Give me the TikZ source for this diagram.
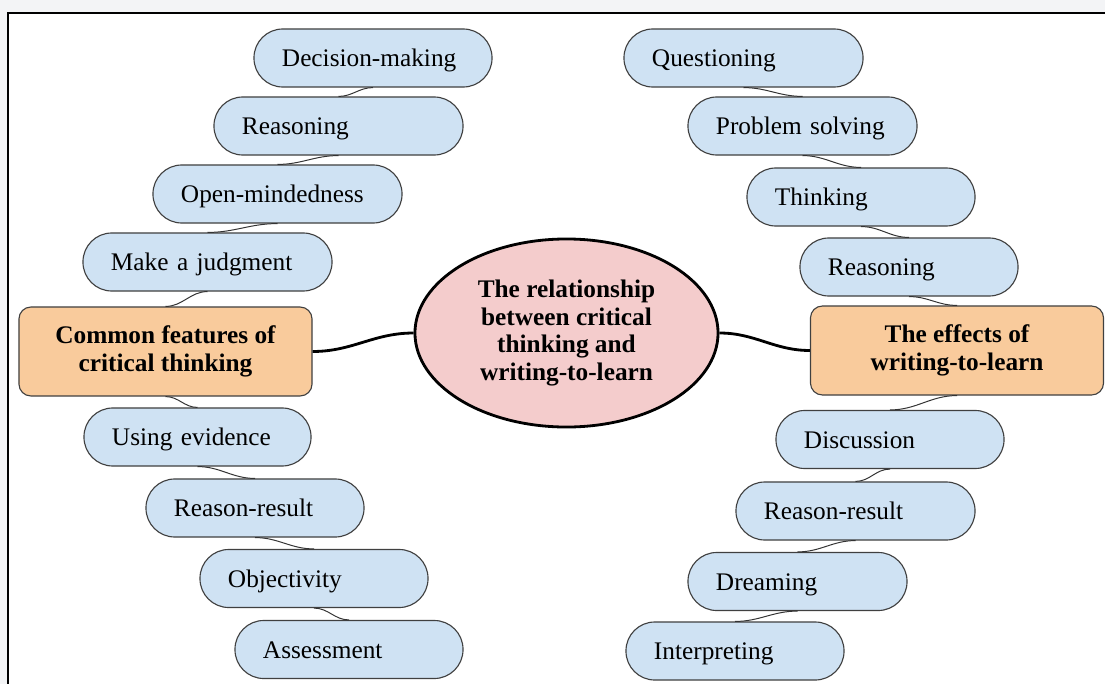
\documentclass[tikz,border=0pt]{standalone}
\usepackage{fontspec}
\setmainfont{Liberation Serif}
\usetikzlibrary{shapes.geometric}

\definecolor{pillblue}{HTML}{CFE2F3}
\definecolor{headorange}{HTML}{F9CB9C}
\definecolor{hubpink}{HTML}{F4CCCC}
\definecolor{pagegray}{HTML}{F3F4F6}

\begin{document}
\begin{tikzpicture}[x=0.025cm,y=-0.025cm,
    pill/.style={draw=black!75, line width=0.8pt, fill=pillblue, rounded corners=0.72cm,
      minimum height=1.45cm, inner xsep=0.7cm, text height=0.57cm, text depth=0.14cm,
      align=left, font=\fontsize{18}{21}\selectfont},
    headbox/.style={draw=black!75, line width=0.8pt, fill=headorange, rounded corners=0.3cm,
      minimum width=7.325cm, minimum height=2.225cm, align=center,
      font=\bfseries\fontsize{18}{20}\selectfont},
    hub/.style={ellipse, draw, line width=2pt, fill=hubpink, minimum width=7.575cm,
      minimum height=4.7cm, inner sep=0pt, align=center, font=\bfseries\fontsize{18}{19.5}\selectfont},
    link/.style={draw=black!80, line width=0.7pt},
    spoke/.style={line width=2pt}]
    \useasboundingbox (0,0) rectangle (1105,684);
    \clip (0,0) rectangle (1105,684);
    \fill[pagegray] (0,0) rectangle (1105,684);
    \draw[line width=1.2pt, fill=white] (8,13) rectangle (1120,700);

    \node[pill, text width=4.55cm] (dm) at (373,58) {Decision-making};
    \node[pill, text width=4.825cm] (rs1) at (338.5,126) {Reasoning};
    \node[pill, text width=4.825cm] (om) at (277.5,194) {Open-mindedness};
    \node[pill, text width=4.825cm] (mj) at (207.5,262) {Make a judgment};
    \node[headbox] (cf) at (165.5,351.5) {Common features of\\critical thinking};
    \node[pill, text width=4.275cm] (ue) at (197.5,437) {Using evidence};
    \node[pill, text width=4.05cm] (rr1) at (255,508) {Reason-result};
    \node[pill, text width=4.3cm] (ob) at (314,578.5) {Objectivity};
    \node[pill, text width=4.3cm] (as) at (349,649.5) {Assessment};

    \node[pill, text width=4.575cm] (qu) at (743.5,58) {Questioning};
    \node[pill, text width=4.325cm] (ps) at (802.5,126) {Problem solving};
    \node[pill, text width=4.3cm] (th) at (861,197) {Thinking};
    \node[pill, text width=4.05cm] (rs2) at (909,267) {Reasoning};
    \node[headbox] (ef) at (957,350.5) {The effects of\\writing-to-learn};
    \node[pill, text width=4.3cm] (di) at (890,439.5) {Discussion};
    \node[pill, text width=4.575cm] (rr2) at (855.5,511) {Reason-result};
    \node[pill, text width=4.075cm] (dr) at (797.5,581.5) {Dreaming};
    \node[pill, text width=4.05cm] (in) at (735,651) {Interpreting};

    \node[hub] (hub) at (566.5,333) {The relationship\\between critical\\thinking and\\writing-to-learn};

    \draw[link] (dm.south) to[out=180,in=0] (rs1.north);
    \draw[link] (rs1.south) to[out=180,in=0] (om.north);
    \draw[link] (om.south) to[out=180,in=0] (mj.north);
    \draw[link] (mj.south) to[out=180,in=0] (cf.north);
    \draw[link] (cf.south) to[out=0,in=180] (ue.north);
    \draw[link] (ue.south) to[out=0,in=180] (rr1.north);
    \draw[link] (rr1.south) to[out=0,in=180] (ob.north);
    \draw[link] (ob.south) to[out=0,in=180] (as.north);

    \draw[link] (qu.south) to[out=0,in=180] (ps.north);
    \draw[link] (ps.south) to[out=0,in=180] (th.north);
    \draw[link] (th.south) to[out=0,in=180] (rs2.north);
    \draw[link] (rs2.south) to[out=0,in=180] (ef.north);
    \draw[link] (ef.south) to[out=180,in=0] (di.north);
    \draw[link] (di.south) to[out=180,in=0] (rr2.north);
    \draw[link] (rr2.south) to[out=180,in=0] (dr.north);
    \draw[link] (dr.south) to[out=180,in=0] (in.north);

    \draw[spoke] (cf.east) to[out=0,in=180] (hub.west);
    \draw[spoke] (hub.east) to[out=0,in=180] (ef.west);
  \end{tikzpicture}
\end{document}
